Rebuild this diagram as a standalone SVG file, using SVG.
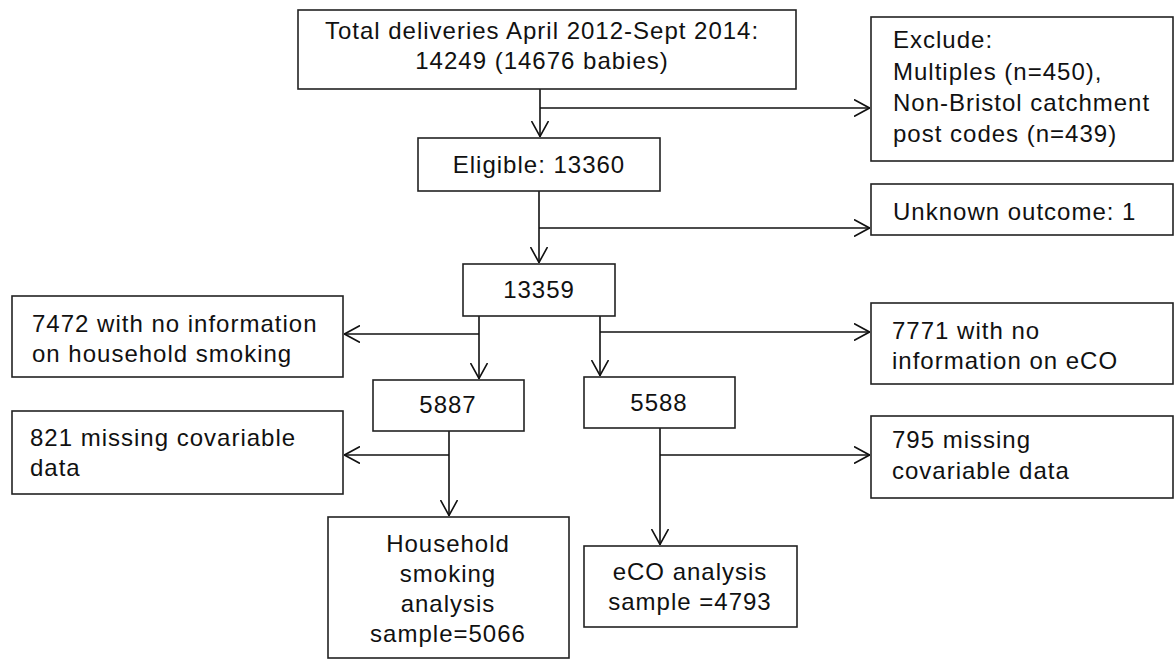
<svg xmlns="http://www.w3.org/2000/svg" width="1174" height="660" viewBox="0 0 1174 660">
<style>
.box{fill:#fff;stroke:#222;stroke-width:1.6}
.t{font-family:"Liberation Sans",Arial,sans-serif;font-size:24px;letter-spacing:1px;fill:#111}
.c{text-anchor:middle}
.ln{fill:none;stroke:#111;stroke-width:1.6}
</style>
<defs>
<marker id="ah" viewBox="0 0 16 18" refX="16" refY="9" markerWidth="16" markerHeight="18" markerUnits="userSpaceOnUse" orient="auto">
<path d="M0,0.5 L15.5,9 L0,17.5" fill="none" stroke="#111" stroke-width="1.6"/>
</marker>
</defs>
<rect width="1174" height="660" fill="#fff"/>
<g id="connectors">
<path class="ln" d="M540,89 V137" marker-end="url(#ah)"/>
<path class="ln" d="M540,108 H870" marker-end="url(#ah)"/>
<path class="ln" d="M539,191 V263" marker-end="url(#ah)"/>
<path class="ln" d="M539,228 H870" marker-end="url(#ah)"/>
<path class="ln" d="M479,316 V379" marker-end="url(#ah)"/>
<path class="ln" d="M479,334 H344" marker-end="url(#ah)"/>
<path class="ln" d="M600,316 V376" marker-end="url(#ah)"/>
<path class="ln" d="M600,332 H870" marker-end="url(#ah)"/>
<path class="ln" d="M449,431 V516" marker-end="url(#ah)"/>
<path class="ln" d="M449,455 H344" marker-end="url(#ah)"/>
<path class="ln" d="M660,428 V545" marker-end="url(#ah)"/>
<path class="ln" d="M660,455 H870" marker-end="url(#ah)"/>
</g>
<g id="total">
<rect class="box" x="298" y="10" width="498" height="79"/>
<text class="t c" x="542" y="39">Total deliveries April 2012-Sept 2014:</text>
<text class="t c" x="542" y="69">14249 (14676 babies)</text>
</g>
<g id="exclude">
<rect class="box" x="871" y="17" width="302" height="144"/>
<text class="t" x="893" y="48">Exclude:</text>
<text class="t" x="893" y="80">Multiples (n=450),</text>
<text class="t" x="893" y="111">Non-Bristol catchment</text>
<text class="t" x="893" y="142">post codes (n=439)</text>
</g>
<g id="eligible">
<rect class="box" x="418" y="138" width="242" height="53"/>
<text class="t c" x="539" y="173">Eligible: 13360</text>
</g>
<g id="unknown">
<rect class="box" x="871" y="184" width="302" height="51"/>
<text class="t" x="893" y="220">Unknown outcome: 1</text>
</g>
<g id="n13359">
<rect class="box" x="463" y="264" width="152" height="52"/>
<text class="t c" x="539" y="298">13359</text>
</g>
<g id="nohousehold">
<rect class="box" x="12" y="296" width="331" height="81"/>
<text class="t" x="32" y="332">7472 with no information</text>
<text class="t" x="32" y="362">on household smoking</text>
</g>
<g id="noeco">
<rect class="box" x="871" y="303" width="302" height="81"/>
<text class="t" x="892" y="339">7771 with no</text>
<text class="t" x="892" y="369">information on eCO</text>
</g>
<g id="n5887">
<rect class="box" x="373" y="380" width="151" height="51"/>
<text class="t c" x="448" y="413">5887</text>
</g>
<g id="n5588">
<rect class="box" x="584" y="377" width="151" height="51"/>
<text class="t c" x="659" y="411">5588</text>
</g>
<g id="missing821">
<rect class="box" x="12" y="411" width="331" height="83"/>
<text class="t" x="30" y="446">821 missing covariable</text>
<text class="t" x="30" y="476">data</text>
</g>
<g id="missing795">
<rect class="box" x="871" y="416" width="302" height="82"/>
<text class="t" x="892" y="448">795 missing</text>
<text class="t" x="892" y="479">covariable data</text>
</g>
<g id="household">
<rect class="box" x="328" y="517" width="241" height="141"/>
<text class="t c" x="448" y="552">Household</text>
<text class="t c" x="448" y="582">smoking</text>
<text class="t c" x="448" y="612">analysis</text>
<text class="t c" x="448" y="642">sample=5066</text>
</g>
<g id="eco">
<rect class="box" x="584" y="546" width="213" height="81"/>
<text class="t c" x="690" y="580">eCO analysis</text>
<text class="t c" x="690" y="610">sample =4793</text>
</g>
</svg>
